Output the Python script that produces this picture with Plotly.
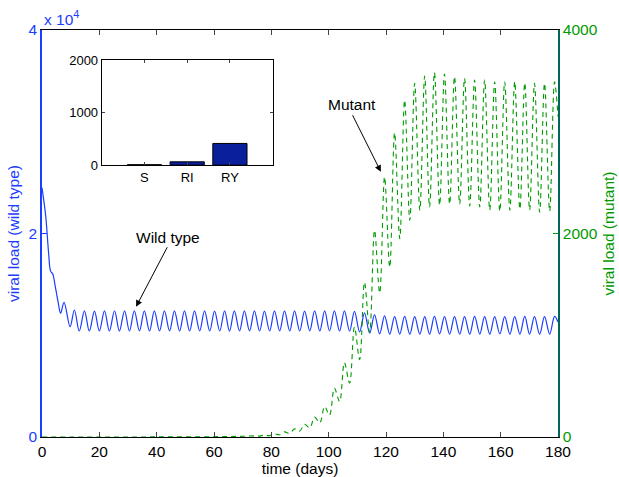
import plotly.graph_objects as go

# ---------------- data ----------------
# Wild type viral load: initial transient, then alternating peaks/troughs
wt_head_t = [0.0, 1.3, 2.3, 3.0, 3.8, 4.5, 5.6, 6.5, 7.7, 9.8]
wt_head_v = [24500, 21700, 18100, 16300, 16000, 15000, 13300, 12160, 13240, 10840]

wt_peak_t = [11.3, 14.8, 18.3, 21.8, 25.3, 28.8, 32.2, 35.7, 39.2, 42.7,
             46.2, 49.7, 53.2, 56.7, 60.2, 63.7, 67.1, 70.6, 74.1, 77.6,
             81.1, 84.6, 88.1, 91.6, 95.1, 98.6, 102.0, 105.5, 109.0, 112.5,
             116.0, 119.5, 123.0, 126.5, 130.0, 133.5, 136.9, 140.4, 143.9, 147.4,
             150.9, 154.4, 157.9, 161.4, 164.9, 168.4, 171.8, 175.3, 178.8]
wt_peak_v = [12480, 12400, 12380, 12400, 12410, 12400, 12390, 12400, 12400, 12390,
             12400, 12400, 12390, 12400, 12380, 12400, 12390, 12400, 12400, 12380,
             12400, 12390, 12400, 12380, 12400, 12390, 12400, 12400, 12350, 12200,
             12000, 11900, 11840, 11850, 11840, 11840, 11850, 11840, 11830, 11840,
             11850, 11840, 11840, 11830, 11840, 11850, 11840, 11840, 11850]

wt_trough_t = [13.0, 16.5, 20.0, 23.5, 27.0, 30.5, 34.0, 37.5, 41.0, 44.5,
               48.0, 51.5, 55.0, 58.5, 62.0, 65.4, 68.9, 72.4, 75.9, 79.4,
               82.9, 86.4, 89.9, 93.4, 96.9, 100.3, 103.8, 107.3, 110.8, 114.3,
               117.8, 121.3, 124.8, 128.3, 131.8, 135.2, 138.7, 142.2, 145.7, 149.2,
               152.7, 156.2, 159.7, 163.2, 166.7, 170.1, 173.6, 177.1]
wt_trough_v = [10420, 10420, 10430, 10420, 10410, 10420, 10430, 10420, 10420, 10430,
               10420, 10420, 10430, 10420, 10420, 10410, 10420, 10430, 10420, 10420,
               10430, 10420, 10420, 10430, 10420, 10420, 10420, 10400, 10330, 10200,
               10130, 10120, 10120, 10110, 10120, 10120, 10130, 10120, 10120, 10110,
               10120, 10120, 10130, 10120, 10120, 10110, 10120, 10120]
wt_tail_t = [180.0]
wt_tail_v = [11300]

# Mutant viral load
mut_head_t = [0.0, 20.0, 40.0, 60.0, 70.0]
mut_head_v = [0, 0, 1, 3, 7]
mut_peak_t = [74.1, 77.6, 81.1, 84.6, 88.1, 91.6, 95.1, 98.6, 102.0, 105.5,
              109.0, 112.5, 116.0, 119.5, 123.0, 126.5, 130.0, 133.5, 136.9, 140.4,
              143.9, 147.4, 150.9, 154.4, 157.9, 161.4, 164.9, 168.4, 171.8, 175.3,
              178.8]
mut_peak_v = [11, 18, 30, 50, 80, 125, 195, 300, 480, 730,
              1080, 1520, 2030, 2555, 2990, 3310, 3476, 3548, 3580, 3567,
              3541, 3525, 3509, 3509, 3492, 3492, 3492, 3480, 3476, 3476,
              3490]
mut_trough_t = [75.9, 79.4, 82.9, 86.4, 89.9, 93.4, 96.9, 100.3, 103.8, 107.3,
                110.8, 114.3, 117.8, 121.3, 124.8, 128.3, 131.8, 135.2, 138.7, 142.2,
                145.7, 149.2, 152.7, 156.2, 159.7, 163.2, 166.7, 170.1, 173.6, 177.1]
mut_trough_v = [9, 14, 22, 36, 58, 90, 140, 215, 350, 530,
                760, 1030, 1415, 1670, 1950, 2130, 2230, 2260, 2280, 2290,
                2290, 2270, 2260, 2230, 2220, 2230, 2240, 2230, 2210, 2220]
mut_tail_t = [180.0]
mut_tail_v = [3150]

# Inset bar chart
bar_cats = ["S", "RI", "RY"]
bar_vals = [8, 63, 413]

x_ticks = [0, 20, 40, 60, 80, 100, 120, 140, 160, 180]
wt_tickvals = [0, 20000, 40000]
wt_ticktext = ["0", "2", "4"]
mut_tickvals = [0, 2000, 4000]
inset_tickvals = [0, 1000, 2000]


def merge(head_t, head_v, pk_t, pk_v, tr_t, tr_v, tail_t, tail_v):
    pts = list(zip(head_t, head_v)) + list(zip(pk_t, pk_v)) + \
        list(zip(tr_t, tr_v)) + list(zip(tail_t, tail_v))
    pts.sort(key=lambda p: p[0])
    return [p[0] for p in pts], [p[1] for p in pts]


wt_t, wt_v = merge(wt_head_t, wt_head_v, wt_peak_t, wt_peak_v,
                   wt_trough_t, wt_trough_v, wt_tail_t, wt_tail_v)
mut_t, mut_v = merge(mut_head_t, mut_head_v, mut_peak_t, mut_peak_v,
                     mut_trough_t, mut_trough_v, mut_tail_t, mut_tail_v)

BLUE = "#1a3dff"
GREEN = "#009a00"
FONT = "Liberation Sans, Arial, Helvetica, sans-serif"

fig = go.Figure()
fig.add_trace(go.Scatter(x=wt_t, y=wt_v, mode="lines",
                         line=dict(color=BLUE, width=1.2, shape="spline", smoothing=1.0),
                         xaxis="x", yaxis="y", showlegend=False, hoverinfo="skip"))
fig.add_trace(go.Scatter(x=mut_t, y=mut_v, mode="lines",
                         line=dict(color=GREEN, width=1.1, dash="5px,4px",
                                   shape="spline", smoothing=1.0),
                         xaxis="x", yaxis="y2", showlegend=False, hoverinfo="skip"))
fig.add_trace(go.Bar(x=bar_cats, y=bar_vals, width=0.8,
                     marker=dict(color="#0a1f9c", line=dict(color="black", width=1)),
                     xaxis="x3", yaxis="y3", showlegend=False, hoverinfo="skip"))

fig.update_layout(
    width=619, height=477,
    margin=dict(l=42, r=61, t=30, b=40, autoexpand=False),
    paper_bgcolor="white", plot_bgcolor="white",
    font=dict(family=FONT, size=15, color="black"),
    xaxis=dict(range=[0, 180], tickvals=x_ticks, ticks="inside", ticklen=5,
               showline=True, linecolor="black", linewidth=1, mirror="ticks",
               showgrid=False, zeroline=False,
               title=dict(text="time (days)", standoff=2, font=dict(size=15.5)),
               tickfont=dict(size=15.5), domain=[0, 1]),
    yaxis=dict(range=[0, 40000], tickvals=wt_tickvals, ticktext=wt_ticktext,
               ticks="inside", ticklen=5, tickcolor=BLUE,
               showline=True, linecolor=BLUE, linewidth=1.8,
               showgrid=False, zeroline=False, color=BLUE,
               title=dict(text="viral load (wild type)", standoff=5,
                          font=dict(size=15.5, color=BLUE)),
               tickfont=dict(size=15.5, color=BLUE)),
    yaxis2=dict(range=[0, 4000], tickvals=mut_tickvals, overlaying="y", side="right",
                ticks="inside", ticklen=5, tickcolor=GREEN,
                showline=True, linecolor="#00665a", linewidth=1.5,
                showgrid=False, zeroline=False,
                title=dict(text="viral load (mutant)", standoff=6,
                           font=dict(size=15.5, color=GREEN)),
                tickfont=dict(size=15.5, color=GREEN)),
    xaxis3=dict(domain=[0.1157, 0.447], anchor="y3", type="category",
                range=[-1, 3], ticks="inside", ticklen=3, mirror="ticks",
                showline=True, linecolor="black", linewidth=1,
                showgrid=False, zeroline=False, tickfont=dict(size=13)),
    yaxis3=dict(domain=[0.668, 0.926], anchor="x3", range=[0, 2000],
                tickvals=inset_tickvals, ticks="inside", ticklen=3, mirror="ticks",
                showline=True, linecolor="black", linewidth=1,
                showgrid=False, zeroline=False, tickfont=dict(size=13)),
    annotations=[
        dict(text="x 10<sup>4</sup>", xref="paper", yref="paper", x=0, y=1,
             xanchor="left", yanchor="bottom", showarrow=False, xshift=0, yshift=0,
             font=dict(size=15.5, color=BLUE)),
        dict(text="Wild type", xref="x", yref="y", x=44.0, y=19600,
             showarrow=False, font=dict(size=15.5, color="black")),
        dict(text="", xref="x", yref="y", x=32.8, y=12800, ax=32, ay=-61,
             showarrow=True, arrowhead=2, arrowsize=1.3, arrowwidth=1,
             arrowcolor="black", standoff=0),
        dict(text="Mutant", xref="x", yref="y2", x=108.2, y=3263,
             showarrow=False, font=dict(size=15.5, color="black")),
        dict(text="", xref="x", yref="y2", x=118.2, y=2607, ax=-29, ay=-58,
             showarrow=True, arrowhead=2, arrowsize=1.3, arrowwidth=1,
             arrowcolor="black", standoff=0),
    ],
)

fig.write_html(
    "out.html",
    config={"displayModeBar": False},
    post_script="document.body.style.margin='0';document.body.style.overflow='hidden';",
)
